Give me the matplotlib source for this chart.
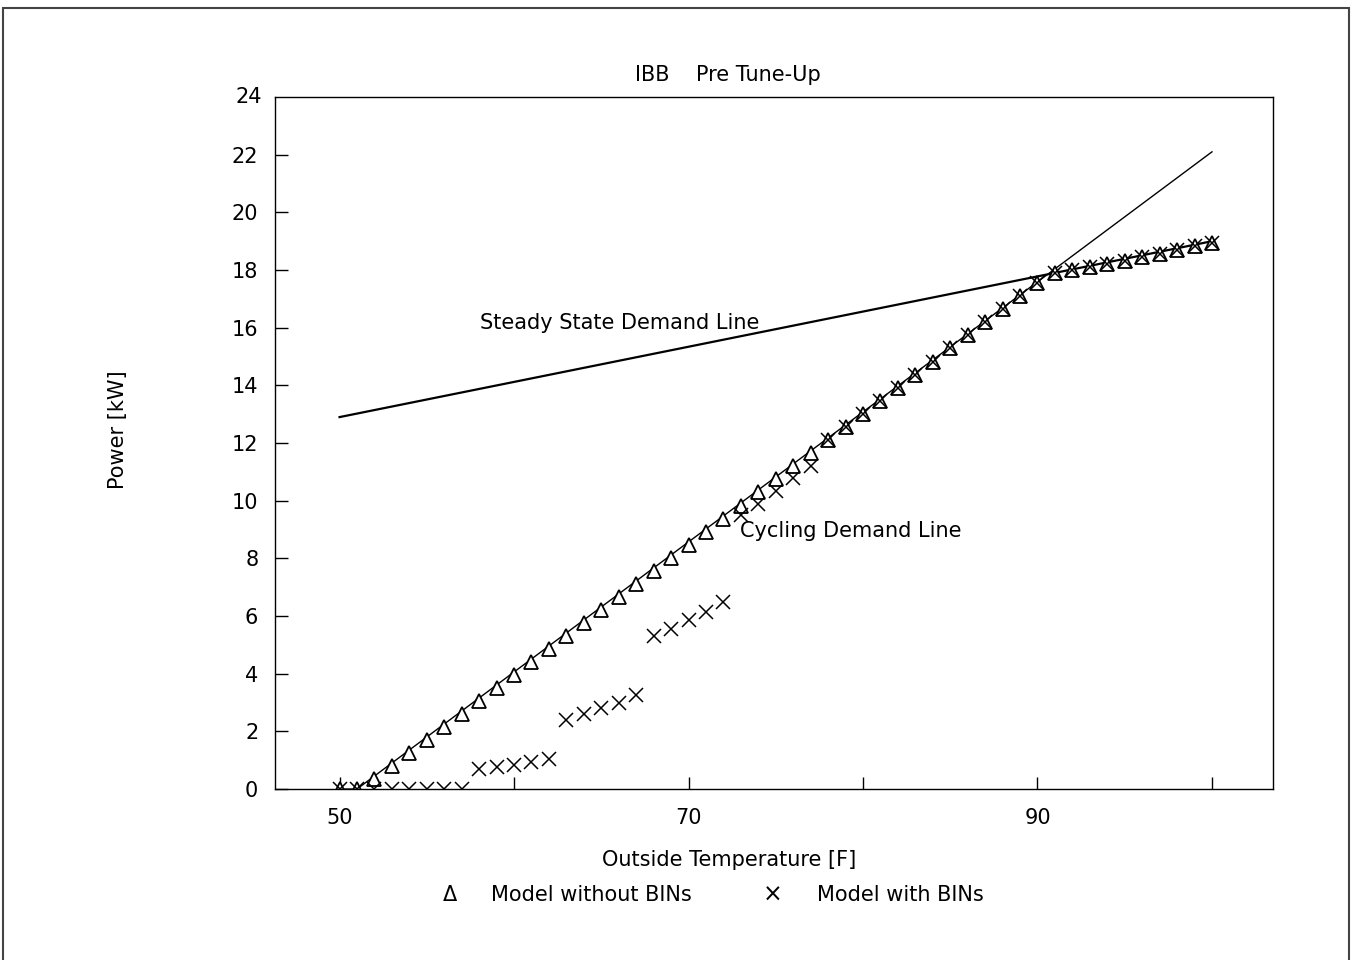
import numpy as np
import matplotlib
matplotlib.use("Agg")
import matplotlib.pyplot as plt
from matplotlib.patches import Rectangle

# Temperature bins [F]
temps = list(range(50, 101))

# Model without BINs (triangles)
power_no_bins = [
    0.0, 0.0, 0.35, 0.8, 1.25, 1.7, 2.15, 2.6, 3.05, 3.5,
    3.95, 4.4, 4.85, 5.3, 5.75, 6.2, 6.65, 7.1, 7.55, 8.0,
    8.45, 8.9, 9.35, 9.8, 10.3, 10.75, 11.2, 11.65, 12.1, 12.55,
    13.0, 13.45, 13.9, 14.35, 14.8, 15.3, 15.75, 16.2, 16.65, 17.1,
    17.55, 17.9, 18.0, 18.1, 18.2, 18.3, 18.45, 18.55, 18.7, 18.85,
    18.95,
]

# Model with BINs (crosses)
power_bins = [
    0.0, 0.0, 0.0, 0.0, 0.0, 0.0, 0.0, 0.0, 0.7, 0.75,
    0.85, 0.95, 1.05, 2.4, 2.6, 2.8, 3.0, 3.25, 5.3, 5.55,
    5.85, 6.15, 6.5, 9.5, 9.9, 10.35, 10.8, 11.2, 12.1, 12.55,
    13.0, 13.45, 13.9, 14.35, 14.8, 15.3, 15.75, 16.2, 16.65, 17.1,
    17.55, 17.9, 18.0, 18.1, 18.2, 18.3, 18.45, 18.55, 18.7, 18.85,
    18.95,
]

# Demand lines (end points)
steady_x = [50, 100]
steady_y = [12.9, 19.0]
cycling_x = [50, 51, 100]
cycling_y = [0.0, 0.0, 22.1]

FS = 15

fig = plt.figure(figsize=(13.52, 9.6), dpi=100)
ax = fig.add_axes([0.2034, 0.1781, 0.7382, 0.7208])

ax.plot(cycling_x, cycling_y, color="black", lw=1.0)
ax.plot(steady_x, steady_y, color="black", lw=1.6)
ax.plot(temps, power_no_bins, linestyle="none", marker="^", markersize=10,
        markerfacecolor="white", markeredgecolor="black", markeredgewidth=1.3)
ax.plot(temps, power_bins, linestyle="none", marker="x", markersize=10,
        color="black", markeredgewidth=1.1)

ax.set_xlim(46.3, 103.5)
ax.set_ylim(0, 24)
ax.set_xticks(range(50, 101, 10))
ax.set_xticklabels(["50", "", "70", "", "90", ""])
ax.set_yticks(range(0, 24, 2))
ax.set_yticklabels([str(v) for v in range(0, 24, 2)])
ax.tick_params(axis="both", direction="in", length=9, width=1, labelsize=FS)
ax.tick_params(axis="y", pad=12)
ax.tick_params(axis="x", pad=14)
for s in ax.spines.values():
    s.set_linewidth(1.0)
fig.text(262 / 1352, 1 - 97 / 960, "24", fontsize=FS, ha="right", va="center")

fig.text(480 / 1352, 1 - 323 / 960, "Steady State Demand Line", fontsize=FS,
         va="center", ha="left")
fig.text(740 / 1352, 1 - 531 / 960, "Cycling Demand Line", fontsize=FS,
         va="center", ha="left")

fig.text(728 / 1352, 1 - 75 / 960, "IBB    Pre Tune-Up", fontsize=FS, ha="center", va="center")
fig.text(729 / 1352, 1 - 860 / 960, "Outside Temperature [F]", fontsize=FS, ha="center", va="center")
fig.text(118 / 1352, 1 - 430 / 960, "Power [kW]", fontsize=FS, ha="center", va="center", rotation=90)

# legend row
fig.text(450 / 1352, 1 - 895 / 960, "\u0394", fontsize=FS, ha="center", va="center")
fig.text(491 / 1352, 1 - 895 / 960, "Model without BINs", fontsize=FS, ha="left", va="center")
fig.text(773 / 1352, 1 - 895 / 960, "\u00d7", fontsize=FS + 2, ha="center", va="center")
fig.text(817 / 1352, 1 - 895 / 960, "Model with BINs", fontsize=FS, ha="left", va="center")

# outer page border
fig.patches.append(Rectangle((3 / 1352, -0.01), 1346 / 1352, 1 - 8 / 960 + 0.01,
                             transform=fig.transFigure, fill=False,
                             edgecolor="#444444", lw=1.5))

fig.savefig("out.png", dpi=100)
